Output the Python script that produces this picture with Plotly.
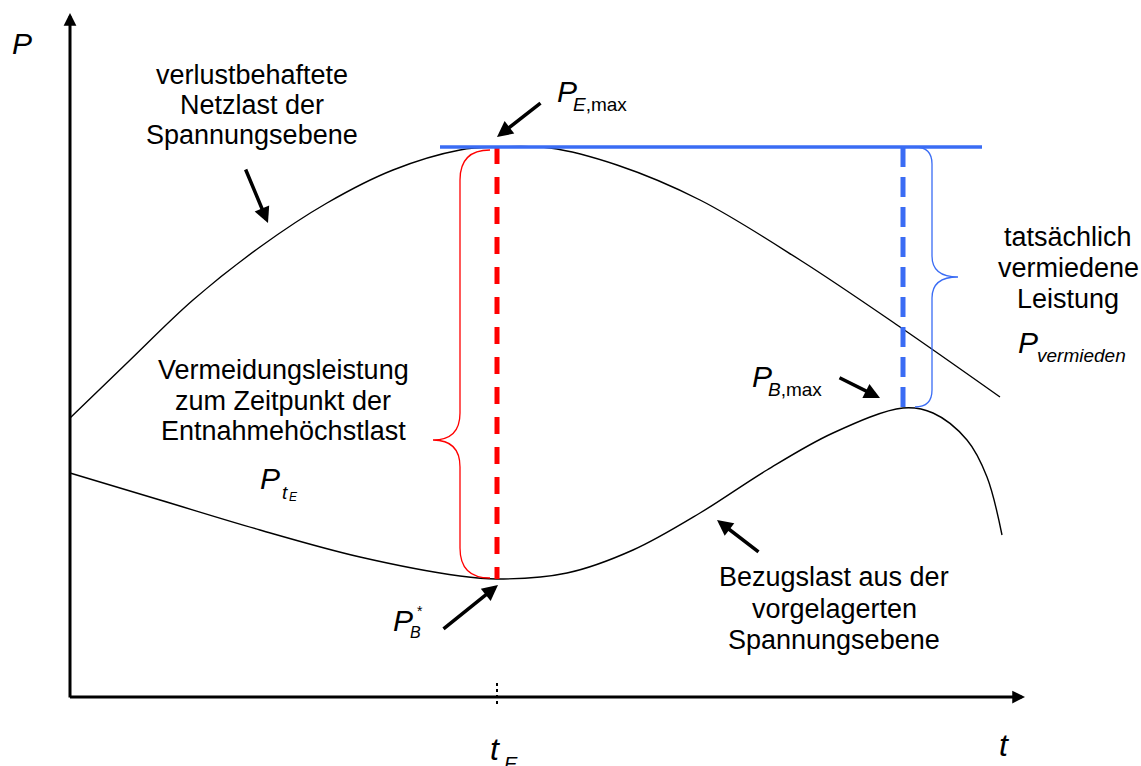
import plotly.graph_objects as go

# ---- frame (data units: 1 unit ~ 1 px, origin at axis crossing) ----
t_range = [-70, 1071]
p_range = [-69, 697]
t_axis_end = 955
p_axis_end = 684

# ---- curves ----
t_netz = [0, 57, 123, 190, 257, 323, 390, 427, 480, 547, 630, 730, 830, 930]
p_netz = [279, 334, 397, 450, 494, 527, 547, 550, 549, 532, 497, 437, 370, 300]

t_bezug = [0, 90, 190, 290, 390, 427, 497, 563, 630, 697, 763, 833, 863, 897, 917, 932]
p_bezug = [224, 197, 167, 140, 121, 118, 124, 147, 184, 227, 264, 289, 284, 257, 220, 162]

# ---- key values ----
t_E = 427
t_Bmax = 833
P_Emax = 550
P_Bstar = 118
P_Bmax = 289
t_Emax_line = [370, 912]

RED = "#ff0000"
BLUE = "#3a6cf4"
FONT = "Liberation Sans, Arial, sans-serif"

fig = go.Figure()

fig.add_trace(go.Scatter(x=t_netz, y=p_netz, mode="lines",
                         line=dict(color="black", width=1.4, shape="spline", smoothing=1),
                         hoverinfo="skip", showlegend=False))
fig.add_trace(go.Scatter(x=t_bezug, y=p_bezug, mode="lines",
                         line=dict(color="black", width=1.4, shape="spline", smoothing=1),
                         hoverinfo="skip", showlegend=False))

# dashed verticals
fig.add_trace(go.Scatter(x=[t_E, t_E], y=[P_Emax, P_Bstar], mode="lines",
                         line=dict(color=RED, width=5, dash="17px,13px"),
                         hoverinfo="skip", showlegend=False))
fig.add_trace(go.Scatter(x=[t_Bmax, t_Bmax], y=[P_Emax, P_Bmax], mode="lines",
                         line=dict(color=BLUE, width=5, dash="20px,10px"),
                         hoverinfo="skip", showlegend=False))
# horizontal P_E,max line
fig.add_trace(go.Scatter(x=t_Emax_line, y=[P_Emax, P_Emax], mode="lines",
                         line=dict(color=BLUE, width=3.5),
                         hoverinfo="skip", showlegend=False))
# t_E tick (dotted)
fig.add_trace(go.Scatter(x=[t_E, t_E], y=[14, -10], mode="lines",
                         line=dict(color="black", width=2, dash="3px,3px"),
                         hoverinfo="skip", showlegend=False))


def brace(x_end, x_v, x_tip, y_top, y_bot, y_tip, r_end, r_tip):
    return (f"M {x_end},{y_top} Q {x_v},{y_top} {x_v},{y_top - r_end} "
            f"L {x_v},{y_tip + r_tip} Q {x_v},{y_tip} {x_tip},{y_tip} "
            f"Q {x_v},{y_tip} {x_v},{y_tip - r_tip} "
            f"L {x_v},{y_bot + r_end} Q {x_v},{y_bot} {x_end},{y_bot}")


shapes = [
    dict(type="path", xref="x", yref="y",
         path=brace(t_E - 7, t_E - 37, t_E - 64, P_Emax - 3, P_Bstar + 1, 257, 30, 27),
         line=dict(color=RED, width=1.3)),
    dict(type="path", xref="x", yref="y",
         path=brace(t_Bmax + 12, t_Bmax + 29, t_Bmax + 55, P_Emax, P_Bmax + 1, 420, 17, 21),
         line=dict(color=BLUE, width=1.3)),
]

ann = []


def arrow(x, y, ax, ay, width=3.5, size=0.9):
    ann.append(dict(x=x, y=y, ax=ax, ay=ay, xref="x", yref="y", axref="x", ayref="y",
                    text="", showarrow=True, arrowhead=2, arrowsize=size,
                    arrowwidth=width, arrowcolor="black", standoff=0, startstandoff=0))


# axes
arrow(0, p_axis_end, 0, -2, width=3, size=0.85)
arrow(t_axis_end, 0, -1.5, 0, width=3, size=0.85)
# pointers
arrow(198, 474, 175, 529)
arrow(427, 560, 472, 595)
arrow(810, 299, 768, 320)
arrow(647, 177, 690, 144)
arrow(428, 112, 372, 67)


def text(s, x, y, size=27, xanchor="center", italic=False):
    if italic:
        s = f"<i>{s}</i>"
    ann.append(dict(x=x, y=y, xref="x", yref="y", text=s, showarrow=False,
                    xanchor=xanchor, yanchor="middle",
                    font=dict(family=FONT, size=size, color="black")))


# text blocks
for s, y in zip(["verlustbehaftete", "Netzlast der", "Spannungsebene"], [622, 592, 562]):
    text(s, 182, y)
for s, y in zip(["Vermeidungsleistung", "zum Zeitpunkt der", "Entnahmehöchstlast"], [327, 296, 266]):
    text(s, 213, y)
for s, y in zip(["tatsächlich", "vermiedene", "Leistung"], [460, 429, 398]):
    text(s, 998, y)
for s, y in zip(["Bezugslast aus der", "vorgelagerten", "Spannungsebene"], [120, 88, 57]):
    text(s, 764, y)

# symbols
text("P", -60, 654, size=30, xanchor="left", italic=True)
text("t", 927, -48, size=32, xanchor="left", italic=True)
text("t", 418, -52, size=32, xanchor="left", italic=True)
text("E", 432, -67, size=20, xanchor="left", italic=True)

text("P", 485, 606, size=30, xanchor="left", italic=True)
text("<i>E</i>,max", 501, 593, size=19, xanchor="left")

text("P", 680, 321, size=30, xanchor="left", italic=True)
text("<i>B</i>,max", 696, 308, size=19, xanchor="left")

text("P", 321, 77, size=30, xanchor="left", italic=True)
text("B", 338, 65, size=16, xanchor="left", italic=True)
text("*", 345, 86, size=14, xanchor="left")

text("P", 188, 219, size=30, xanchor="left", italic=True)
text("t", 210, 205, size=19, xanchor="left", italic=True)
text("E", 217, 200, size=12, xanchor="left", italic=True)

text("P", 946, 355, size=30, xanchor="left", italic=True)
text("vermieden", 965, 342, size=19, xanchor="left", italic=True)

fig.update_layout(
    width=1141, height=766,
    margin=dict(l=0, r=0, t=0, b=0),
    paper_bgcolor="white", plot_bgcolor="white",
    xaxis=dict(range=t_range, visible=False, fixedrange=True),
    yaxis=dict(range=p_range, visible=False, fixedrange=True),
    shapes=shapes, annotations=ann, showlegend=False,
)

fig.write_html("out.html", config={"displayModeBar": False},
               post_script="document.body.style.margin='0px';document.body.style.overflow='hidden';")
